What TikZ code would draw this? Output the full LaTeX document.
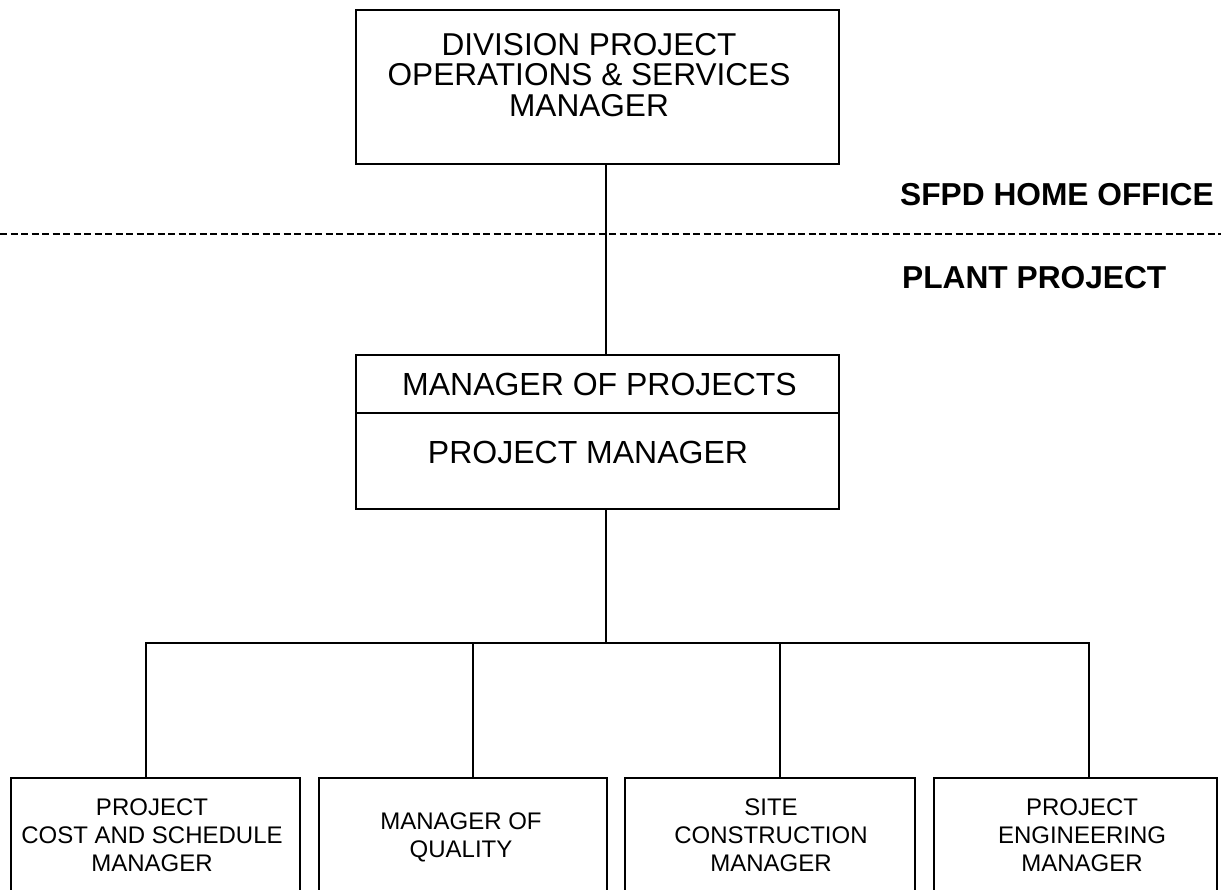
\documentclass[tikz,border=0pt]{standalone}
\usepackage{fontspec}
\setmainfont{Liberation Sans}
\begin{document}
\begin{tikzpicture}[x=1pt,y=-1pt,
  rule/.style={line width=2.9pt, line cap=rect},
  box/.style={draw, line width=2.9pt, rectangle, inner sep=0pt, outer sep=0pt},
  bigtext/.style={inner sep=0pt, align=center, font=\fontsize{31.6}{30.5}\selectfont},
  midtext/.style={inner sep=0pt, align=center, font=\fontsize{32}{32}\selectfont},
  smalltext/.style={inner sep=0pt, align=center, font=\fontsize{24}{27.8}\selectfont},
  zonetext/.style={inner sep=0pt, anchor=west, font=\fontsize{31.7}{31.7}\selectfont\bfseries}]
  % page frame
  \useasboundingbox (0,0) rectangle (1221,890);
  \fill[white] (0,0) rectangle (1221,890);
  \clip (0,0) rectangle (1221,890);

  % reference lines for the connectors
  \coordinate (spine) at (606,0);
  \coordinate (bus) at (606,643);
  \coordinate (d1) at (146,0);
  \coordinate (d2) at (473,0);
  \coordinate (d3) at (780,0);
  \coordinate (d4) at (1089,0);

  % home office / plant boundary
  \coordinate (sepL) at (0,234);
  \coordinate (sepR) at (1221,234);
  \draw[line width=2.2pt, dash pattern=on 7pt off 3.5pt] (sepL) -- (sepR);
  \node[zonetext] (home) at (900,195) {SFPD HOME OFFICE};
  \node[zonetext] (plant) at (902,277.5) {PLANT PROJECT};

  % top box
  \node[box, minimum width=483pt, minimum height=154pt] (top) at (597.5,87) {};
  \node[bigtext] (toptxt) at (589,75) {DIVISION PROJECT\\OPERATIONS \& SERVICES\\MANAGER};

  % middle box, two cells
  \node[box, minimum width=483pt, minimum height=58pt] (mop) at (597.5,384) {};
  \node[box, minimum width=483pt, minimum height=96pt] (pm) at (597.5,461) {};
  \node[midtext] (moptxt) at (599.5,384.5) {MANAGER OF PROJECTS};
  \node[midtext] (pmtxt) at (588,452) {PROJECT MANAGER};

  % bottom boxes
  \node[box, minimum width=289pt, minimum height=140pt] (c1) at (155.5,848) {};
  \node[box, minimum width=288pt, minimum height=140pt] (c2) at (463,848) {};
  \node[box, minimum width=290pt, minimum height=140pt] (c3) at (770,848) {};
  \node[box, minimum width=283pt, minimum height=140pt] (c4) at (1075.5,848) {};
  \node[smalltext] (t1) at (152,835) {PROJECT\\COST AND SCHEDULE\\MANAGER};
  \node[smalltext] (t2) at (461,837) {MANAGER OF\\QUALITY};
  \node[smalltext] (t3) at (771,835) {SITE\\CONSTRUCTION\\MANAGER};
  \node[smalltext] (t4) at (1082,835) {PROJECT\\ENGINEERING\\MANAGER};

  % connectors
  \draw[rule] (spine |- top.south) -- (spine |- mop.north);
  \draw[rule] (spine |- pm.south) -- (bus);
  \draw[rule] (d1 |- bus) -- (d4 |- bus);
  \draw[rule] (d1 |- bus) -- (d1 |- c1.north);
  \draw[rule] (d2 |- bus) -- (d2 |- c2.north);
  \draw[rule] (d3 |- bus) -- (d3 |- c3.north);
  \draw[rule] (d4 |- bus) -- (d4 |- c4.north);
\end{tikzpicture}
\end{document}
